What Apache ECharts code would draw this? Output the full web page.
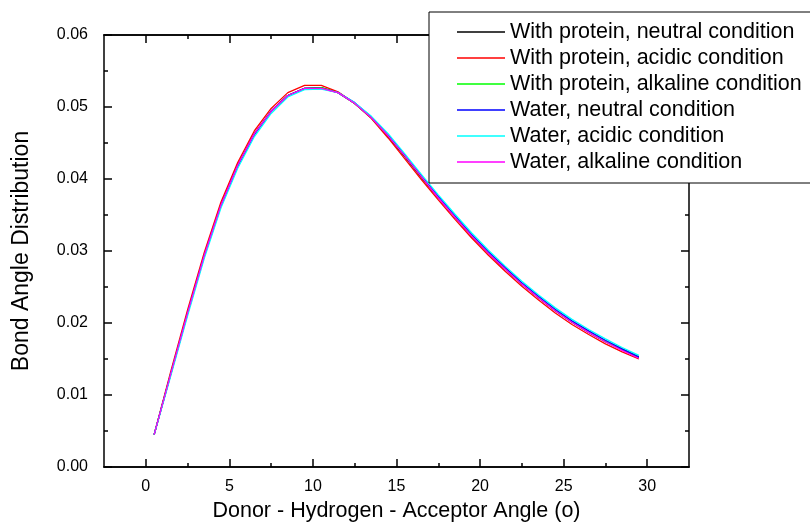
<!DOCTYPE html>
<html>
<head>
<meta charset="utf-8">
<script src="https://cdn.jsdelivr.net/npm/echarts@6/dist/echarts.min.js"></script>
<style>
html,body{margin:0;padding:0;background:#fff;overflow:hidden;}
#chart{width:810px;height:529px;}
</style>
</head>
<body>
<div id="chart"></div>
<script>
const angles = [0.5,1.5,2.5,3.5,4.5,5.5,6.5,7.5,8.5,9.5,10.5,11.5,12.5,13.5,14.5,15.5,16.5,17.5,18.5,19.5,20.5,21.5,22.5,23.5,24.5,25.5,26.5,27.5,28.5,29.5];
const proteinNeutral  = [0.0045,0.0130,0.0214,0.0294,0.0364,0.0419,0.0463,0.0494,0.0516,0.0526,0.0527,0.0520,0.0505,0.0485,0.0459,0.0431,0.0402,0.0374,0.0347,0.0321,0.0297,0.0275,0.0254,0.0235,0.0217,0.0201,0.0187,0.0174,0.0163,0.0152];
const proteinAcidic   = [0.0045,0.0133,0.0218,0.0298,0.0368,0.0423,0.0467,0.0498,0.0520,0.0530,0.0530,0.0521,0.0505,0.0484,0.0457,0.0428,0.0399,0.0371,0.0344,0.0318,0.0294,0.0272,0.0251,0.0232,0.0214,0.0198,0.0184,0.0171,0.0160,0.0150];
const proteinAlkaline = [0.0045,0.0130,0.0213,0.0293,0.0363,0.0418,0.0462,0.0494,0.0516,0.0526,0.0527,0.0520,0.0505,0.0485,0.0460,0.0432,0.0403,0.0375,0.0348,0.0322,0.0298,0.0276,0.0255,0.0236,0.0218,0.0202,0.0188,0.0175,0.0164,0.0153];
const waterNeutral    = [0.0045,0.0129,0.0213,0.0293,0.0363,0.0418,0.0462,0.0494,0.0516,0.0526,0.0526,0.0520,0.0506,0.0486,0.0461,0.0433,0.0404,0.0376,0.0349,0.0323,0.0299,0.0277,0.0256,0.0237,0.0219,0.0203,0.0189,0.0176,0.0164,0.0153];
const waterAcidic     = [0.0045,0.0127,0.0210,0.0290,0.0360,0.0415,0.0459,0.0491,0.0514,0.0524,0.0525,0.0520,0.0506,0.0487,0.0463,0.0435,0.0406,0.0378,0.0351,0.0325,0.0301,0.0279,0.0258,0.0239,0.0221,0.0205,0.0191,0.0178,0.0166,0.0155];
const waterAlkaline   = [0.0045,0.0130,0.0214,0.0294,0.0364,0.0419,0.0463,0.0494,0.0516,0.0526,0.0526,0.0520,0.0505,0.0485,0.0460,0.0432,0.0403,0.0374,0.0347,0.0321,0.0297,0.0275,0.0254,0.0235,0.0217,0.0201,0.0187,0.0174,0.0162,0.0151];

const seriesNames = ['With protein, neutral condition','With protein, acidic condition','With protein, alkaline condition','Water, neutral condition','Water, acidic condition','Water, alkaline condition'];
const seriesData = [proteinNeutral, proteinAcidic, proteinAlkaline, waterNeutral, waterAcidic, waterAlkaline];
const seriesColors = ['#000000','#ff0000','#00ff00','#0000ff','#00ffff','#ff00ff'];

const xMajor = [0,5,10,15,20,25,30];
const xMinor = [2.5,7.5,12.5,17.5,22.5,27.5];
const xLabels = ['0','5','10','15','20','25','30'];
const yLabelsFmt = v => v.toFixed(2);

const FONT = 'Liberation Sans, Arial, sans-serif';
const chart = echarts.init(document.getElementById('chart'));

function xAx(pos, ticks, len, labels, name) {
  return {
    type: 'value', position: pos, min: -2.5, max: 32.5, gridIndex: 0,
    axisLine: { show: true, onZero: false, lineStyle: { color: '#000', width: 1.5 } },
    axisTick: { show: true, inside: true, length: len, customValues: ticks, lineStyle: { color: '#000', width: 1.5 } },
    axisLabel: labels ? { show: true, customValues: xMajor, margin: 12, color: '#000', fontFamily: FONT, fontSize: 16,
      formatter: v => xLabels[xMajor.indexOf(v)] } : { show: false },
    splitLine: { show: false },
    name: name || '', nameLocation: 'middle', nameGap: 33,
    nameTextStyle: { color: '#000', fontFamily: FONT, fontSize: 21.5 }
  };
}
function yAx(pos, labels, name) {
  return {
    type: 'value', position: pos, min: 0, max: 0.06, interval: 0.01,
    axisLine: { show: true, onZero: false, lineStyle: { color: '#000', width: 1.5 } },
    axisTick: { show: true, inside: true, length: 8, lineStyle: { color: '#000', width: 1.5 } },
    minorTick: { show: true, splitNumber: 2, length: 4, lineStyle: { color: '#000', width: 1.5 } },
    axisLabel: labels ? { show: true, margin: 16, color: '#000', fontFamily: FONT, fontSize: 16, formatter: yLabelsFmt } : { show: false },
    splitLine: { show: false }, minorSplitLine: { show: false },
    name: name || '', nameLocation: 'middle', nameGap: 71,
    nameTextStyle: { color: '#000', fontFamily: FONT, fontSize: 23 }
  };
}

const option = {
  backgroundColor: '#fff',
  animation: false,
  grid: { left: 104, right: 121, top: 35, bottom: 62, containLabel: false },
  xAxis: [
    xAx('bottom', xMajor, 8, true, 'Donor - Hydrogen - Acceptor Angle (o)'),
    xAx('bottom', xMinor, 4, false),
    xAx('top', xMajor, 8, false),
    xAx('top', xMinor, 4, false)
  ],
  yAxis: [
    yAx('left', true, 'Bond Angle Distribution'),
    yAx('right', false)
  ],
  legend: {
    show: true, orient: 'vertical', left: 429, top: 12,
    padding: [7, 60, 8, 28],
    icon: 'rect',
    itemWidth: 48, itemHeight: 1.6, itemGap: 0,
    backgroundColor: '#fff', borderColor: '#000', borderWidth: 1, borderRadius: 0,
    textStyle: { color: '#000', fontFamily: FONT, fontSize: 21.5, lineHeight: 26 },
    data: seriesNames
  },
  series: seriesNames.map((n, i) => ({
    name: n, type: 'line', xAxisIndex: 0, yAxisIndex: 0,
    data: angles.map((a, j) => [a, seriesData[i][j]]),
    symbol: 'none', smooth: false,
    lineStyle: { color: seriesColors[i], width: 1.3 },
    itemStyle: { color: seriesColors[i] }
  }))
};
chart.setOption(option);
</script>
</body>
</html>
